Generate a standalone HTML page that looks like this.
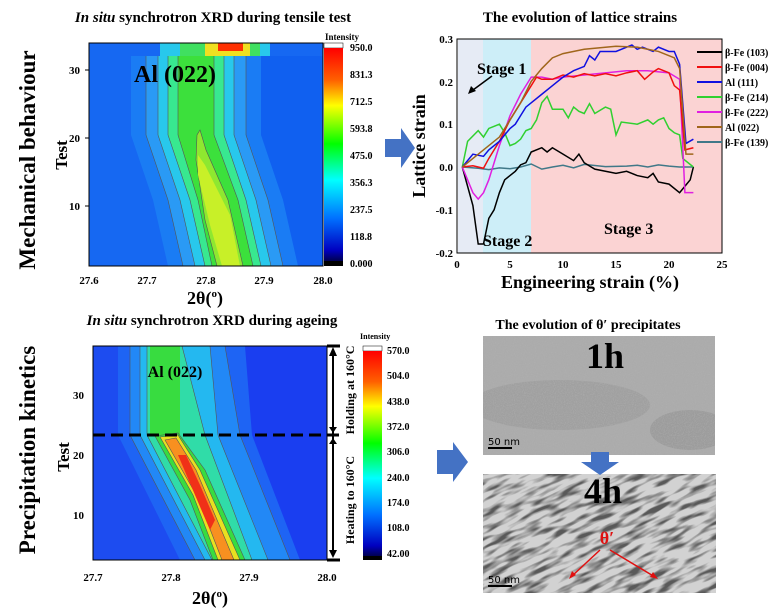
<!DOCTYPE html>
<html><head><meta charset="utf-8"><style>
html,body{margin:0;padding:0;background:#fff;width:776px;height:608px;overflow:hidden}
svg{display:block}
text{font-family:"Liberation Serif",serif;font-weight:bold;fill:#000}
</style></head><body>
<svg width="776" height="608" viewBox="0 0 776 608" xmlns="http://www.w3.org/2000/svg">
<defs>
<linearGradient id="cb" x1="0" y1="0" x2="0" y2="1">
<stop offset="0" stop-color="#ff0000"/><stop offset="0.15" stop-color="#ff6000"/>
<stop offset="0.27" stop-color="#ffff00"/><stop offset="0.45" stop-color="#00ff00"/>
<stop offset="0.62" stop-color="#00ffff"/><stop offset="0.8" stop-color="#0070ff"/>
<stop offset="0.95" stop-color="#0000c0"/><stop offset="1" stop-color="#000050"/>
</linearGradient>
<filter id="n1" x="0" y="0" width="1" height="1">
<feTurbulence type="fractalNoise" baseFrequency="0.9" numOctaves="2" seed="3"/>
<feColorMatrix type="matrix" values="0 0 0 0 0.45  0 0 0 0 0.45  0 0 0 0 0.45  -2 0 0 0 1.2"/>
</filter>
<filter id="n2" x="0" y="0" width="1" height="1">
<feTurbulence type="fractalNoise" baseFrequency="0.04 0.18" numOctaves="2" seed="7"/>
<feColorMatrix type="matrix" values="0 0 0 0 0.1  0 0 0 0 0.1  0 0 0 0 0.1  4 0 0 0 -1.8"/>
</filter>
<clipPath id="c1"><rect x="89" y="43" width="234" height="223"/></clipPath>
<clipPath id="c2"><rect x="93" y="346" width="234" height="214"/></clipPath>
<clipPath id="c3"><rect x="483" y="474" width="233" height="119"/></clipPath>
<clipPath id="c4"><rect x="483" y="336" width="232" height="119"/></clipPath>
</defs>

<!-- ===== Top-left contour ===== -->
<text x="213" y="22" font-size="15" text-anchor="middle"><tspan font-style="italic">In situ</tspan> synchrotron XRD during tensile test</text>
<g clip-path="url(#c1)">
<rect x="89" y="43" width="234" height="223" fill="#1060f0"/>
<rect x="89" y="43" width="120" height="223" fill="#1668f2"/>
<path d="M131,43 L131,135 L153,200 L168,266 L298,266 L283,200 L261,135 L261,43 Z" fill="#1a7cf4"/>
<path d="M146,43 L146,135 L168,200 L183,266 L283,266 L268,200 L246,135 L246,43 Z" fill="#2a9af5" stroke="#555" stroke-width="0.6"/>
<path d="M158,43 L158,135 L180,200 L195,266 L271,266 L256,200 L234,135 L234,43 Z" fill="#28c8ec" stroke="#555" stroke-width="0.6"/>
<path d="M168,43 L168,135 L190,200 L205,266 L261,266 L246,200 L224,135 L224,43 Z" fill="#38e890" stroke="#555" stroke-width="0.6"/>
<path d="M178,43 L178,135 L198,200 L212,266 L253,266 L238,200 L214,135 L214,43 Z" fill="#3ce03c" stroke="#555" stroke-width="0.6"/>
<path d="M196,160 L197,135 L200,130 L206,150 L228,200 L243,266 L217,266 L205,220 Z" fill="#8ee830" stroke="#555" stroke-width="0.6"/>
<path d="M198,175 L198,155 L205,165 L230,215 L240,266 L222,266 L210,225 Z" fill="#c8f028"/>
<rect x="89" y="43" width="234" height="13" fill="#1668f2"/>
<rect x="160" y="43" width="110" height="13" fill="#28c8ec"/>
<rect x="180" y="43" width="80" height="13" fill="#40e060"/>
<rect x="205" y="43" width="45" height="13" fill="#f0e020"/>
<rect x="218" y="43" width="25" height="8" fill="#ff3000"/>
</g>
<rect x="89" y="43" width="234" height="223" fill="none" stroke="#000" stroke-width="1"/>
<text x="175" y="82" font-size="24" text-anchor="middle">Al (022)</text>
<g font-size="11">
<text x="80" y="74" text-anchor="end">30</text><text x="80" y="142" text-anchor="end">20</text><text x="80" y="210" text-anchor="end">10</text>
<text x="89" y="284" text-anchor="middle">27.6</text><text x="147" y="284" text-anchor="middle">27.7</text><text x="206" y="284" text-anchor="middle">27.8</text><text x="264" y="284" text-anchor="middle">27.9</text><text x="323" y="284" text-anchor="middle">28.0</text>
</g>
<g stroke="#000" stroke-width="1"><line x1="85" y1="70" x2="89" y2="70"/><line x1="85" y1="138" x2="89" y2="138"/><line x1="85" y1="206" x2="89" y2="206"/></g>
<text x="205" y="304" font-size="18" text-anchor="middle">2θ(<tspan font-size="11" dy="-7">o</tspan><tspan dy="7">)</tspan></text>
<text transform="translate(67,155) rotate(-90)" font-size="17" text-anchor="middle">Test</text>
<text transform="translate(35,160) rotate(-90)" font-size="23" text-anchor="middle">Mechanical behaviour</text>
<text x="325" y="40" font-size="9">Intensity</text>
<rect x="324" y="43" width="19" height="5" fill="#fff" stroke="#000" stroke-width="0.5"/>
<rect x="324" y="48" width="19" height="213" fill="url(#cb)"/>
<rect x="324" y="261" width="19" height="5" fill="#000"/>
<g font-size="10">
<text x="350" y="51">950.0</text><text x="350" y="78">831.3</text><text x="350" y="105">712.5</text><text x="350" y="132">593.8</text><text x="350" y="159">475.0</text><text x="350" y="186">356.3</text><text x="350" y="213">237.5</text><text x="350" y="240">118.8</text><text x="350" y="267">0.000</text>
</g>
<path d="M385,139 L401,139 L401,128 L415,148 L401,168 L401,157 L385,157 Z" fill="#4472c4"/>

<!-- ===== Top-right lattice strains ===== -->
<text x="580" y="22" font-size="15" text-anchor="middle">The evolution of lattice strains</text>
<rect x="458" y="39" width="25" height="214" fill="#e6ebf5"/>
<rect x="483" y="39" width="48" height="214" fill="#cdeef8"/>
<rect x="531" y="39" width="191" height="214" fill="#fbd3d3"/>
<g transform="translate(457,167) scale(10.6,-428)" fill="none" stroke-width="1.5">
<polyline vector-effect="non-scaling-stroke" stroke="#407888" points="0.5,0 2,-0.003 3,-0.006 4,-0.002 5,-0.004 6,0 7,0.007 8,-0.005 9,0 10,0.004 11,-0.002 12,0.006 14,0.001 16,0.002 17,0.004 18,0 19,0.005 20,0.002 21,0 22.3,0"/>
<polyline vector-effect="non-scaling-stroke" stroke="#000" points="0.5,0 1.5,-0.09 2,-0.18 2.5,-0.18 3,-0.12 3.5,-0.1 4,-0.06 4.5,-0.03 5,-0.02 5.5,-0.01 6,0.005 6.5,0.01 7,0.035 8,0.045 8.5,0.035 9,0.045 10,0.03 11,0.015 11.5,0.03 12,0.01 13,-0.005 14,-0.01 15,-0.015 16,-0.01 17,-0.02 18,-0.025 18.5,-0.015 19,-0.035 20,-0.04 21,-0.06 21.5,-0.045 22,-0.03 22.3,0"/>
<polyline vector-effect="non-scaling-stroke" stroke="#30d030" points="0.5,0 1,0.06 2,0.085 2.5,0.07 3,0.09 4,0.1 4.5,0.08 5,0.05 5.5,0.055 6,0.065 6.5,0.085 7,0.09 7.5,0.11 8,0.15 8.5,0.165 9,0.135 10,0.135 10.5,0.115 11,0.14 11.5,0.13 12,0.125 12.5,0.148 13,0.125 14,0.14 14.5,0.135 15,0.075 15.5,0.105 17,0.1 18,0.11 18.5,0.1 19,0.11 19.5,0.115 20,0.09 20.5,0.08 21,0.075 21.3,0.02 22.3,0"/>
<polyline vector-effect="non-scaling-stroke" stroke="#e020e0" points="0.5,0 1.5,-0.06 2,-0.075 2.5,-0.06 3,-0.03 4,0.05 5,0.12 6,0.17 7,0.21 8,0.21 9,0.205 10,0.21 12,0.215 14,0.22 16,0.225 18,0.225 20,0.22 21,0.205 21.5,-0.06 22.3,-0.06"/>
<polyline vector-effect="non-scaling-stroke" stroke="#f01010" points="0.5,0 1.5,0.003 2.5,-0.003 3,0.02 4,0.06 5,0.11 6,0.15 7,0.19 7.5,0.21 8,0.205 9,0.205 10,0.215 11,0.21 12,0.218 13,0.213 14,0.218 15,0.213 16,0.22 17,0.225 17.7,0.205 18.5,0.222 19,0.23 20,0.22 20.5,0.19 21,0.18 21.5,0.04 22.3,0.045"/>
<polyline vector-effect="non-scaling-stroke" stroke="#1010e0" points="0.5,0 1.5,0.03 2.5,0.025 3,0.04 4,0.06 5,0.09 5.5,0.1 6,0.12 6.5,0.14 7,0.15 8,0.17 9,0.19 10,0.21 11,0.225 12,0.235 12.5,0.26 13,0.25 13.5,0.27 14,0.27 15,0.27 16,0.28 16.5,0.285 17,0.275 17.5,0.28 18,0.275 18.5,0.27 19,0.28 20,0.27 20.5,0.27 21,0.24 21.6,0.055 22.3,0.065"/>
<polyline vector-effect="non-scaling-stroke" stroke="#a0661c" points="0.5,0 2,0.03 4,0.07 6,0.15 7,0.2 8,0.23 9,0.255 10,0.265 12,0.275 15,0.282 17,0.28 19,0.27 20.5,0.255 21,0.23 21.6,0.03 22.3,0.03"/>
</g>
<rect x="457" y="39" width="265" height="214" fill="none" stroke="#000" stroke-width="1"/>
<g font-size="11">
<text x="453" y="43" text-anchor="end">0.3</text><text x="453" y="86" text-anchor="end">0.2</text><text x="453" y="128" text-anchor="end">0.1</text><text x="453" y="171" text-anchor="end">0.0</text><text x="453" y="214" text-anchor="end">-0.1</text><text x="453" y="257" text-anchor="end">-0.2</text>
<text x="457" y="268" text-anchor="middle">0</text><text x="510" y="268" text-anchor="middle">5</text><text x="563" y="268" text-anchor="middle">10</text><text x="616" y="268" text-anchor="middle">15</text><text x="669" y="268" text-anchor="middle">20</text><text x="722" y="268" text-anchor="middle">25</text>
</g>
<text x="590" y="288" font-size="18" text-anchor="middle">Engineering strain (%)</text>
<text transform="translate(425,146) rotate(-90)" font-size="18" text-anchor="middle">Lattice strain</text>
<text x="477" y="74" font-size="16">Stage 1</text>
<line x1="492" y1="76" x2="473" y2="90" stroke="#000" stroke-width="1.5"/>
<path d="M468,94 L471,86 L476,91 Z" fill="#000"/>
<text x="483" y="246" font-size="16">Stage 2</text>
<text x="604" y="234" font-size="16">Stage 3</text>
<g font-size="10" stroke-width="2">
<line x1="697" y1="52" x2="722" y2="52" stroke="#000"/><text x="725" y="56">β-Fe (103)</text>
<line x1="697" y1="67" x2="722" y2="67" stroke="#f01010"/><text x="725" y="71">β-Fe (004)</text>
<line x1="697" y1="82" x2="722" y2="82" stroke="#1010e0"/><text x="725" y="86">Al (111)</text>
<line x1="697" y1="97" x2="722" y2="97" stroke="#30d030"/><text x="725" y="101">β-Fe (214)</text>
<line x1="697" y1="112" x2="722" y2="112" stroke="#e020e0"/><text x="725" y="116">β-Fe (222)</text>
<line x1="697" y1="127" x2="722" y2="127" stroke="#a0661c"/><text x="725" y="131">Al (022)</text>
<line x1="697" y1="142" x2="722" y2="142" stroke="#407888"/><text x="725" y="146">β-Fe (139)</text>
</g>

<!-- ===== Bottom-left contour ===== -->
<text x="212" y="325" font-size="15" text-anchor="middle"><tspan font-style="italic">In situ</tspan> synchrotron XRD during ageing</text>
<g clip-path="url(#c2)">
<rect x="93" y="346" width="234" height="214" fill="#1a3ef0"/>
<path d="M93,346 L200,346 L200,560 L93,560 Z" fill="#1d4cf0"/>
<path d="M118,346 L118,435 L180,560 L300,560 L252,435 L245,346 Z" fill="#1e64f4"/>
<path d="M130,346 L130,435 L195,560 L290,560 L240,435 L225,346 Z" fill="#2288f6" stroke="#555" stroke-width="0.6"/>
<path d="M140,346 L140,435 L205,560 L268,560 L218,435 L210,346 Z" fill="#24b8f0" stroke="#555" stroke-width="0.6"/>
<path d="M147,346 L147,435 L212,560 L252,560 L205,435 L182,346 Z" fill="#30dca8" stroke="#555" stroke-width="0.6"/>
<rect x="150" y="346" width="30" height="89" fill="#38dc40"/>
<path d="M155,436 L178,433 L205,470 L245,560 L213,560 L190,500 Z" fill="#38dc40" stroke="#555" stroke-width="0.6"/>
<path d="M160,437 L178,435 L200,470 L240,560 L218,560 L193,495 Z" fill="#e8e020" stroke="#555" stroke-width="0.6"/>
<path d="M165,440 L176,438 L196,470 L234,560 L222,560 L198,498 Z" fill="#f89020" stroke="#555" stroke-width="0.6"/>
<path d="M178,455 L186,455 L200,485 L215,520 L210,530 L195,495 Z" fill="#f03018"/>
</g>
<rect x="93" y="346" width="234" height="214" fill="none" stroke="#000" stroke-width="1"/>
<line x1="93" y1="435" x2="340" y2="435" stroke="#000" stroke-width="3" stroke-dasharray="12,6"/>
<line x1="327" y1="346" x2="340" y2="346" stroke="#000" stroke-width="3"/>
<line x1="327" y1="560" x2="340" y2="560" stroke="#000" stroke-width="3"/>
<line x1="333" y1="350" x2="333" y2="556" stroke="#000" stroke-width="2"/>
<path d="M329,356 L333,347 L337,356 Z M329,427 L333,433 L337,427 Z M329,444 L333,438 L337,444 Z M329,550 L333,558 L337,550 Z" fill="#000"/>
<text transform="translate(354,390) rotate(-90)" font-size="12" text-anchor="middle">Holding at 160°C</text>
<text transform="translate(354,500) rotate(-90)" font-size="12" text-anchor="middle">Heating to 160°C</text>
<text x="175" y="377" font-size="16" text-anchor="middle">Al (022)</text>
<g font-size="11">
<text x="84" y="399" text-anchor="end">30</text><text x="84" y="459" text-anchor="end">20</text><text x="84" y="519" text-anchor="end">10</text>
<text x="93" y="581" text-anchor="middle">27.7</text><text x="171" y="581" text-anchor="middle">27.8</text><text x="249" y="581" text-anchor="middle">27.9</text><text x="327" y="581" text-anchor="middle">28.0</text>
</g>
<text x="210" y="604" font-size="18" text-anchor="middle">2θ(<tspan font-size="11" dy="-7">o</tspan><tspan dy="7">)</tspan></text>
<text transform="translate(69,457) rotate(-90)" font-size="17" text-anchor="middle">Test</text>
<text transform="translate(35,450) rotate(-90)" font-size="23" text-anchor="middle">Precipitation kinetics</text>
<text x="360" y="339" font-size="8">Intensity</text>
<rect x="363" y="346" width="19" height="5" fill="#fff" stroke="#000" stroke-width="0.5"/>
<rect x="363" y="351" width="19" height="205" fill="url(#cb)"/>
<rect x="363" y="556" width="19" height="4" fill="#000"/>
<g font-size="10">
<text x="387" y="354">570.0</text><text x="387" y="379">504.0</text><text x="387" y="405">438.0</text><text x="387" y="430">372.0</text><text x="387" y="455">306.0</text><text x="387" y="481">240.0</text><text x="387" y="506">174.0</text><text x="387" y="531">108.0</text><text x="387" y="557">42.00</text>
</g>

<!-- ===== Bottom-right TEM ===== -->
<text x="588" y="329" font-size="14" text-anchor="middle">The evolution of θ′ precipitates</text>
<rect x="483" y="336" width="232" height="119" fill="#ababab"/>
<g clip-path="url(#c4)">
<ellipse cx="560" cy="405" rx="90" ry="25" fill="#909090" opacity="0.4"/>
<ellipse cx="690" cy="430" rx="40" ry="20" fill="#888" opacity="0.4"/>
<rect x="483" y="336" width="232" height="119" filter="url(#n1)" opacity="0.6"/>
</g>
<text x="605" y="368" font-size="36" text-anchor="middle">1h</text>
<line x1="488" y1="448" x2="512" y2="448" stroke="#000" stroke-width="2"/>
<text x="488" y="445" font-size="10" style="font-family:'DejaVu Sans',sans-serif;font-weight:normal">50 nm</text>

<rect x="483" y="474" width="233" height="119" fill="#d2d2d2"/>
<g clip-path="url(#c3)">
<g transform="rotate(-25 600 533)"><rect x="420" y="420" width="360" height="230" filter="url(#n2)"/></g>
</g>
<text x="603" y="503" font-size="36" text-anchor="middle">4h</text>
<path d="M591,452 L609,452 L609,462 L619,462 L600,475 L581,462 L591,462 Z" fill="#4472c4"/>
<text x="607" y="544" font-size="18" text-anchor="middle" style="fill:#e01010">θ′</text>
<line x1="600" y1="550" x2="572" y2="576" stroke="#e01010" stroke-width="1.5"/>
<line x1="610" y1="550" x2="655" y2="577" stroke="#e01010" stroke-width="1.5"/>
<path d="M569,579 L572,571 L576,575 Z M658,579 L650,577 L653,572 Z" fill="#e01010"/>
<line x1="488" y1="586" x2="512" y2="586" stroke="#000" stroke-width="2"/>
<text x="488" y="583" font-size="10" style="font-family:'DejaVu Sans',sans-serif;font-weight:normal">50 nm</text>
<path d="M437,450 L453,450 L453,442 L468,462 L453,482 L453,474 L437,474 Z" fill="#4472c4"/>
</svg>
</body></html>
